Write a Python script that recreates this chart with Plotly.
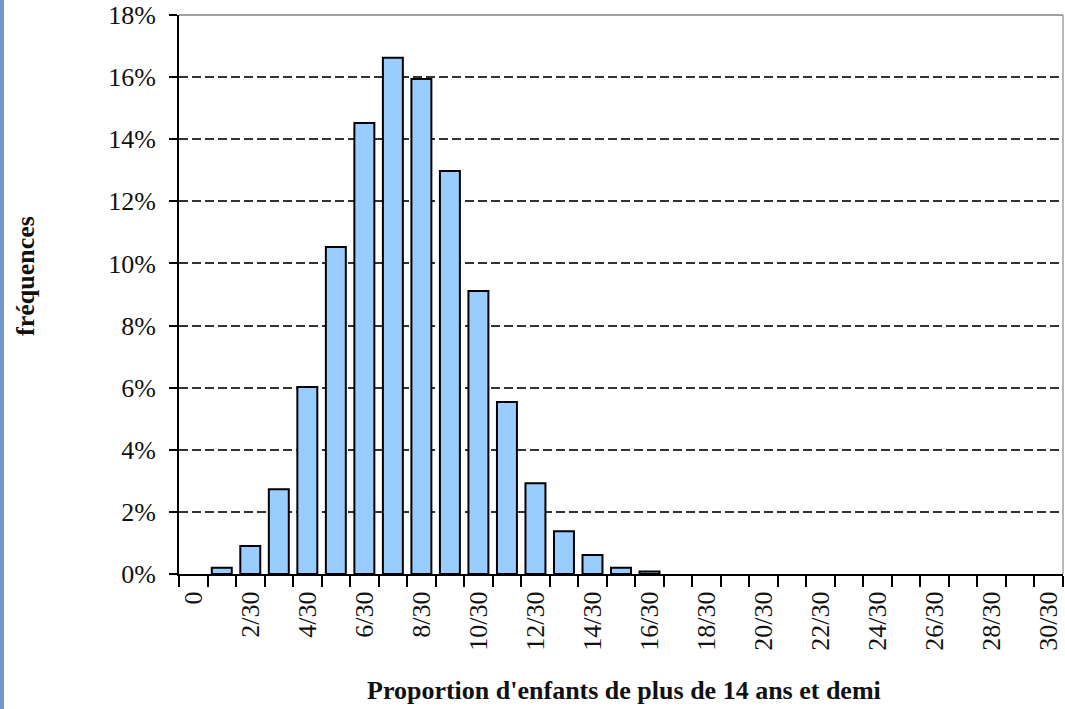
import plotly.graph_objects as go

categories = ["0", "1/30", "2/30", "3/30", "4/30", "5/30", "6/30", "7/30", "8/30", "9/30",
              "10/30", "11/30", "12/30", "13/30", "14/30", "15/30", "16/30", "17/30", "18/30",
              "19/30", "20/30", "21/30", "22/30", "23/30", "24/30", "25/30", "26/30", "27/30",
              "28/30", "29/30", "30/30"]
frequences = [0.0, 0.0020, 0.0090, 0.0273, 0.0602, 0.1053, 0.1452, 0.1662, 0.1594, 0.1298,
              0.0911, 0.0554, 0.0292, 0.0138, 0.0061, 0.0020, 0.0008, 0.0, 0.0, 0.0,
              0.0, 0.0, 0.0, 0.0, 0.0, 0.0, 0.0, 0.0, 0.0, 0.0, 0.0]
tick_labels = ["0", "", "2/30", "", "4/30", "", "6/30", "", "8/30", "", "10/30", "", "12/30", "",
               "14/30", "", "16/30", "", "18/30", "", "20/30", "", "22/30", "", "24/30", "",
               "26/30", "", "28/30", "", "30/30"]
y_ticks = [0, 0.02, 0.04, 0.06, 0.08, 0.10, 0.12, 0.14, 0.16, 0.18]
y_tick_labels = ["0%", "2%", "4%", "6%", "8%", "10%", "12%", "14%", "16%", "18%"]

FONT = "Liberation Serif, Times New Roman, serif"
L, R, T, B = 179, 2, 15, 135
W, H = 1065, 709
pw = W - L - R
ph = H - T - B

outline_widths = [2 if v > 0 else 0 for v in frequences]

fig = go.Figure()
fig.add_trace(go.Bar(
    x=categories, y=frequences,
    marker=dict(color="#99ccff", line=dict(color="#000000", width=outline_widths)),
    width=0.7,
))

fig.update_layout(
    width=W, height=H,
    margin=dict(l=L, r=R, t=T, b=B),
    paper_bgcolor="white", plot_bgcolor="white",
    showlegend=False,
    font=dict(family=FONT, color="#111111", size=24),
    xaxis=dict(
        type="category",
        tickmode="array", tickvals=categories, ticktext=tick_labels,
        tickson="boundaries", ticks="outside", ticklen=11, tickwidth=2, tickcolor="#000000",
        tickangle=-90, tickfont=dict(family=FONT, size=26, color="#111111"),
        ticklabelstandoff=5,
        showline=True, linecolor="#000000", linewidth=2,
        showgrid=False, range=[-0.5, 30.5],
    ),
    yaxis=dict(
        range=[0, 0.18],
        tickmode="array", tickvals=y_ticks, ticktext=y_tick_labels,
        ticks="outside", ticklen=8, tickwidth=2, tickcolor="#000000",
        tickfont=dict(family=FONT, size=26, color="#111111"),
        ticklabelstandoff=8,
        showline=True, linecolor="#000000", linewidth=2,
        showgrid=True, gridcolor="#333333", gridwidth=1.6, griddash="9px,4px",
        zeroline=False,
    ),
    shapes=[
        dict(type="line", xref="paper", yref="paper", x0=0, x1=1, y0=1, y1=1,
             line=dict(color="#a0a0a0", width=2), layer="above"),
        dict(type="line", xref="paper", yref="paper", x0=1, x1=1, y0=0, y1=1,
             line=dict(color="#a0a0a0", width=1.5), layer="above"),
        dict(type="rect", xref="paper", yref="paper",
             x0=-L / pw, x1=(4 - L) / pw, y0=-B / ph, y1=1 + T / ph,
             fillcolor="#7399c9", line=dict(width=0), layer="above"),
    ],
    annotations=[
        dict(text="<b>Proportion d'enfants de plus de 14 ans et demi</b>",
             xref="paper", yref="paper", x=(624 - L) / pw, y=-(690 - (T + ph)) / ph,
             xanchor="center", yanchor="middle", showarrow=False,
             font=dict(family=FONT, size=26, color="#111111")),
        dict(text="<b>fréquences</b>", textangle=-90,
             xref="paper", yref="paper", x=(25 - L) / pw, y=1 - (276 - T) / ph,
             xanchor="center", yanchor="middle", showarrow=False,
             font=dict(family=FONT, size=26, color="#111111")),
    ],
)

fig.write_html("out.html", config={"displayModeBar": False},
               post_script="document.body.style.margin='0';document.body.style.overflow='hidden';")
